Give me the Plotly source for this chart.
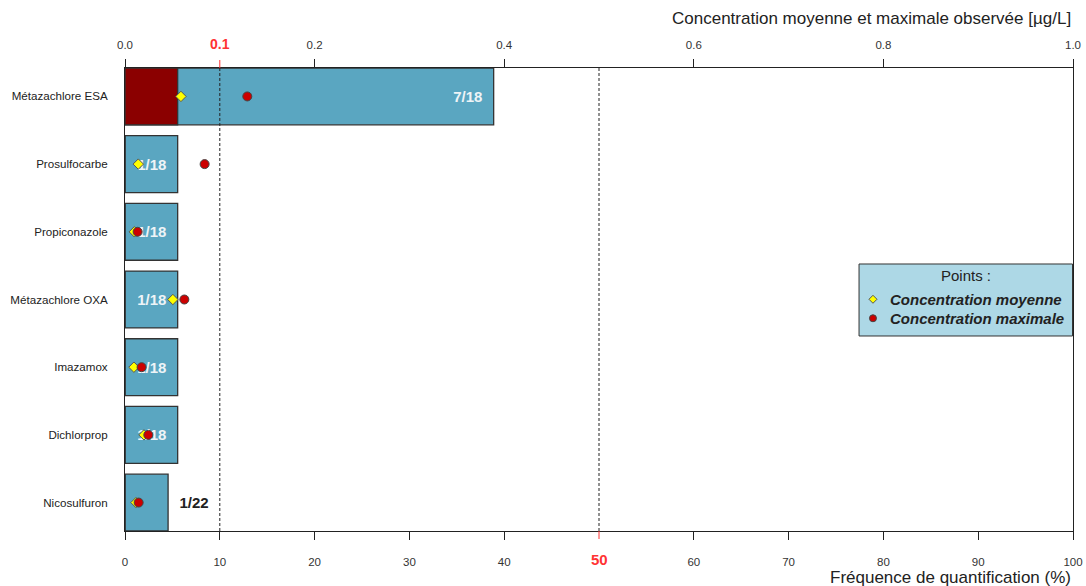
import plotly.graph_objects as go

# Substances, listed top to bottom
substances = ["Métazachlore ESA", "Prosulfocarbe", "Propiconazole", "Métazachlore OXA",
              "Imazamox", "Dichlorprop", "Nicosulfuron"]
n_quantified = [7, 1, 1, 1, 1, 1, 1]
n_analyses = [18, 18, 18, 18, 18, 18, 22]
n_above_threshold = [1, 0, 0, 0, 0, 0, 0]          # analyses > 0.1 µg/L
mean_conc = [0.059, 0.014, 0.0098, 0.0505, 0.0094, 0.020, 0.0116]   # µg/L
max_conc = [0.129, 0.084, 0.0133, 0.0626, 0.0175, 0.0246, 0.0144]   # µg/L

freq_ticks = [0, 10, 20, 30, 40, 60, 70, 80, 90, 100]
conc_ticks = [0.0, 0.2, 0.4, 0.6, 0.8, 1.0]
conc_ticktext = ["0.0", "0.2", "0.4", "0.6", "0.8", "1.0"]

FONT = "Liberation Sans, Arial, sans-serif"
BAR_BLUE = "#5AA6C1"
DARK_RED = "#8B0000"
OUTLINE = "#333333"
MEAN_COL = "#FFFF00"
MAX_COL = "#CC0000"
NBSP = "\u00a0"

freq = [q / n * 100 for q, n in zip(n_quantified, n_analyses)]
freq_above = [a / n * 100 for a, n in zip(n_above_threshold, n_analyses)]
labels = [f"{q}/{n}" for q, n in zip(n_quantified, n_analyses)]
order = list(reversed(substances))

# counts go inside the bar end when there is room, otherwise just after it
inside = [f >= 5 for f in freq]
bar_text = [f"<b>{lab}{NBSP * 2}</b>" if ins else f"<b>{NBSP * 2}{lab}</b>"
            for lab, ins in zip(labels, inside)]
text_pos = ["inside" if ins else "outside" for ins in inside]
text_col = ["#EEF4F7" if ins else "#222222" for ins in inside]

fig = go.Figure()

# quantification frequency bars
fig.add_trace(go.Bar(
    x=freq, y=substances, orientation="h", width=0.84,
    marker=dict(color=BAR_BLUE, line=dict(color=OUTLINE, width=1.3)),
    text=bar_text, textposition=text_pos, insidetextanchor="end",
    textfont=dict(family=FONT, size=15, color=text_col), cliponaxis=False,
    showlegend=False, hoverinfo="skip", xaxis="x", yaxis="y"))
# share of analyses above 0.1 µg/L
fig.add_trace(go.Bar(
    x=freq_above, y=substances, orientation="h", width=0.84,
    marker=dict(color=DARK_RED, line=dict(color=OUTLINE, width=1.3)),
    showlegend=False, hoverinfo="skip", xaxis="x", yaxis="y"))

# mean and max concentrations on the top axis
fig.add_trace(go.Scatter(
    x=mean_conc, y=substances, mode="markers", xaxis="x2", yaxis="y",
    marker=dict(symbol="diamond", size=8, color=MEAN_COL, line=dict(color="#555555", width=1)),
    showlegend=False, hoverinfo="skip"))
fig.add_trace(go.Scatter(
    x=max_conc, y=substances, mode="markers", xaxis="x2", yaxis="y",
    marker=dict(symbol="circle", size=9, color=MAX_COL, line=dict(color="#444444", width=1)),
    showlegend=False, hoverinfo="skip"))

# ---- key box (paper coordinates) ----
KEY_X0, KEY_X1, KEY_Y0, KEY_Y1 = 0.7743, 0.9995, 0.4212, 0.5767
KEY_SYM_X, KEY_TXT_X = 0.789, 0.8045
KEY_ROWS = [0.5005, 0.4595]
key_names = ["Concentration moyenne", "Concentration maximale"]

annotations = [
    # highlighted thresholds on both axes
    dict(x=0.1, y=1, xref="x2", yref="paper", text="<b>0.1</b>", showarrow=False,
         yanchor="middle", yshift=24, font=dict(family=FONT, size=14, color="#FF3333")),
    dict(x=50, y=0, xref="x", yref="paper", text="<b>50</b>", showarrow=False,
         yanchor="middle", yshift=-28, font=dict(family=FONT, size=15, color="#FF3333")),
    # axis titles
    dict(x=1, y=1, xref="paper", yref="paper", xanchor="right", yanchor="middle",
         yshift=50, text="Concentration moyenne et maximale observée [µg/L]",
         showarrow=False, font=dict(family=FONT, size=17, color="#222222")),
    dict(x=1, y=0, xref="paper", yref="paper", xanchor="right", yanchor="middle",
         yshift=-46, text="Fréquence de quantification (%)",
         showarrow=False, font=dict(family=FONT, size=17, color="#222222")),
    # key title and entries
    dict(x=(KEY_X0 + KEY_X1) / 2, y=0.5508, xref="paper", yref="paper", text="Points :",
         showarrow=False, xanchor="center", yanchor="middle",
         font=dict(family=FONT, size=15, color="#222222")),
]
for name, ry in zip(key_names, KEY_ROWS):
    annotations.append(dict(x=KEY_TXT_X, y=ry, xref="paper", yref="paper",
                            text=f"<b><i>{name}</i></b>", showarrow=False,
                            xanchor="left", yanchor="middle",
                            font=dict(family=FONT, size=15, color="#222222")))

shapes = [
    dict(type="line", xref="x", yref="paper", x0=10, x1=10, y0=0, y1=1,
         line=dict(color="#222222", width=1, dash="3px,2px")),
    dict(type="line", xref="x", yref="paper", x0=50, x1=50, y0=0, y1=1,
         line=dict(color="#222222", width=1, dash="3px,2px")),
    # red tick marks for the thresholds
    dict(type="line", xref="x2", yref="paper", x0=0.1, x1=0.1, ysizemode="pixel", yanchor=1,
         y0=0, y1=8, line=dict(color="#FF3333", width=1)),
    dict(type="line", xref="x", yref="paper", x0=50, x1=50, ysizemode="pixel", yanchor=0,
         y0=0, y1=-8, line=dict(color="#FF3333", width=1)),
    # key box and symbols
    dict(type="rect", xref="paper", yref="paper", x0=KEY_X0, x1=KEY_X1, y0=KEY_Y0, y1=KEY_Y1,
         fillcolor="#ADD8E6", line=dict(color="#333333", width=1)),
    dict(type="path", xref="paper", yref="paper", xsizemode="pixel", ysizemode="pixel",
         xanchor=KEY_SYM_X, yanchor=KEY_ROWS[0], path="M -4,0 L 0,4 L 4,0 L 0,-4 Z",
         fillcolor=MEAN_COL, line=dict(color="#555555", width=1)),
    dict(type="circle", xref="paper", yref="paper", xsizemode="pixel", ysizemode="pixel",
         xanchor=KEY_SYM_X, yanchor=KEY_ROWS[1], x0=-3.5, x1=3.5, y0=-3.5, y1=3.5,
         fillcolor=MAX_COL, line=dict(color="#444444", width=1)),
]

fig.update_layout(
    width=1086, height=586,
    margin=dict(l=125, r=13, t=68, b=55, autoexpand=False),
    paper_bgcolor="white", plot_bgcolor="white",
    barmode="overlay", showlegend=False,
    uniformtext=dict(mode="show", minsize=15),
    font=dict(family=FONT, size=11.5, color="#222222"),
    xaxis=dict(range=[0, 100], tickvals=freq_ticks, ticks="outside", ticklen=8,
               tickcolor="#222222", showline=True, linecolor="#222222", linewidth=1,
               showgrid=False, zeroline=False, tickfont=dict(size=11.5, color="#333333"),
               ticklabelstandoff=12, automargin=False),
    xaxis2=dict(range=[0, 1], overlaying="x", side="top", tickvals=conc_ticks,
                ticktext=conc_ticktext, ticks="outside", ticklen=8, tickcolor="#222222",
                showline=True, linecolor="#222222", linewidth=1, showgrid=False,
                zeroline=False, tickfont=dict(size=11.5, color="#333333"), ticklabelstandoff=5,
                automargin=False),
    yaxis=dict(type="category", categoryorder="array", categoryarray=order,
               range=[-0.42, len(substances) - 0.58], showline=True, mirror=True,
               linecolor="#222222", linewidth=1, ticks="", showgrid=False, zeroline=False,
               tickfont=dict(size=11.6, color="#222222"), ticklabelstandoff=14,
               automargin=False),
    annotations=annotations,
    shapes=shapes,
)

fig.write_html("out.html", config={"displayModeBar": False})
